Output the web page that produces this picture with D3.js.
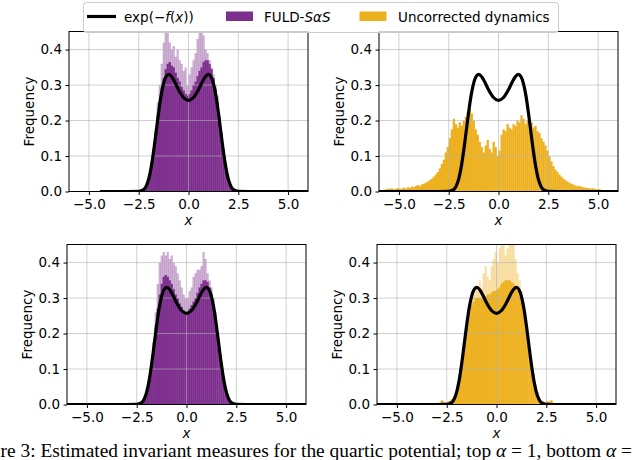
<!DOCTYPE html>
<html>
<head>
<meta charset="utf-8">
<script src="https://d3js.org/d3.v7.min.js"></script>
<style>
  body { margin:0; background:#fff; }
  svg { display:block; }
</style>
</head>
<body>
<div class="canvas"></div>
<script>
// ---- data ----
var tickX = [-5, -2.5, 0, 2.5, 5];
var tickY = [0, 0.1, 0.2, 0.3, 0.4];
var binWidth = 0.1;

// exp(-f(x)) reference density, sampled
var curveX = [-6, -3, -2.5, -2.25, -2.125, -2, -1.875, -1.75, -1.625, -1.5, -1.375, -1.25, -1.125, -1, -0.875, -0.75, -0.5, -0.25, 0,
              0.25, 0.5, 0.75, 0.875, 1, 1.125, 1.25, 1.375, 1.5, 1.625, 1.75, 1.875, 2, 2.125, 2.25, 2.5, 3, 6];
var curveY = [0, 0, 0.0003, 0.0053, 0.015, 0.0348, 0.068, 0.114, 0.168, 0.223, 0.271, 0.305, 0.324, 0.33, 0.3256, 0.315, 0.287, 0.265, 0.257,
              0.265, 0.287, 0.315, 0.3256, 0.33, 0.324, 0.305, 0.271, 0.223, 0.168, 0.114, 0.068, 0.0348, 0.015, 0.0053, 0.0003, 0, 0];

// FULD-SaS, top (alpha = 1): bins from -2.5
var fuldTopBody = [0,0,0.003,0.01,0.022,0.045,0.08,0.12,0.17,0.215,
                   0.255,0.29,0.32,0.345,0.36,0.365,0.355,0.35,0.335,0.32,
                   0.31,0.295,0.285,0.275,0.27, 0.275,0.285,0.3,0.31,0.325,
                   0.34,0.35,0.365,0.37,0.37, 0.36,0.345,0.32,0.29,0.25,
                   0.21,0.165,0.12,0.08,0.045, 0.022,0.01,0.003,0,0];
var fuldTopPeak = [0,0,0,0,0,0,0,0,0,0.25,
                   0.3,0.36,0.42,0.45,0.45,0.42,0.4,0.41,0.38,0.4,
                   0.37,0.36,0.34,0.35,0.3, 0.33,0.35,0.37,0.39,0.43,
                   0.45,0.45,0.44,0.4,0.39, 0.37,0.35,0.33,0.3,0.27,
                   0,0,0,0,0, 0,0,0,0,0];

// uncorrected dynamics, top: bins from -6
var uncTopBody = [0,0.003,0.005,0.006,0.008,0.007,0.009,0.006,0.008,0.01,
                  0.007,0.009,0.011,0.008,0.012,0.01,0.014,0.012,0.016,0.018,
                  0.015,0.02,0.022,0.025,0.028,0.032,0.036,0.042,0.048,0.055,
                  0.065,0.078,0.09,0.11,0.125,0.15,0.175,0.205,0.19,0.18,
                  0.195,0.185,0.2,0.21,0.225,0.232,0.22,0.2,0.175,0.16,
                  0.14,0.125,0.11,0.13,0.145,0.12,0.11,0.14,0.125,0.1,
                  0.115,0.16,0.175,0.17,0.19,0.18,0.175,0.19,0.185,0.2,
                  0.195,0.215,0.205,0.19,0.2,0.185,0.195,0.18,0.185,0.17,
                  0.165,0.15,0.14,0.13,0.115,0.1,0.085,0.072,0.062,0.055,
                  0.048,0.042,0.036,0.032,0.028,0.025,0.022,0.02,0.017,0.015,
                  0.016,0.013,0.012,0.011,0.01,0.009,0.008,0.009,0.007,0.006,
                  0.007,0.005,0.004,0.003,0.002,0.001,0,0,0,0];

// FULD-SaS, bottom: bins from -2.5
var fuldBotBody = [0,0,0.003,0.01,0.022,0.045,0.08,0.125,0.175,0.225,
                   0.27,0.31,0.34,0.36,0.365,0.36,0.35,0.34,0.325,0.31,
                   0.3,0.285,0.275,0.265,0.26, 0.26,0.27,0.28,0.29,0.3,
                   0.315,0.33,0.34,0.35,0.35, 0.345,0.33,0.31,0.28,0.245,
                   0.205,0.16,0.115,0.075,0.043, 0.02,0.008,0.002,0,0];
var fuldBotPeak = [0,0,0,0,0,0,0,0,0,0.26,
                   0.34,0.4,0.42,0.43,0.42,0.43,0.41,0.42,0.4,0.39,
                   0.37,0.35,0.33,0.31,0.3, 0.3,0.32,0.33,0.36,0.37,
                   0.38,0.38,0.39,0.43,0.41, 0.37,0.35,0.33,0.3,0.26,
                   0,0,0,0,0, 0,0,0,0,0];

// uncorrected dynamics, bottom: bins from -3
var uncBotBody = [0,0.005,0.012,0.008,0.004,0.006,0.01,0.015,0.022,0.035,
                  0.055,0.085,0.125,0.17,0.21,0.24,0.26,0.28,0.29,0.3,
                  0.3,0.3,0.3,0.3,0.305,0.31,0.31,0.315,0.32,0.32,
                  0.325,0.33,0.34,0.345,0.35,0.35,0.35,0.345,0.34,0.33,
                  0.32,0.305,0.29,0.265,0.235,0.2,0.16,0.12,0.085,0.055,
                  0.035,0.02,0.01,0.006,0.004,0.01,0.008,0.012,0.004,0];
var uncBotPeak = [0,0,0,0,0,0,0,0,0,0,
                  0,0,0,0,0,0,0,0.3,0.31,0.33,
                  0.32,0.35,0.33,0.37,0.39,0.36,0.35,0.39,0.41,0.43,
                  0.4,0.44,0.45,0.45,0.42,0.44,0.45,0.45,0.45,0.41,
                  0.37,0.35,0.32,0.29,0,0,0,0,0,0,
                  0,0,0,0,0,0,0,0,0,0];

var legendLabels = ['exp(−f(x))', 'FULD-SαS', 'Uncorrected dynamics'];

// ---- layout ----
var pageWidth = 640, pageHeight = 460;
var plotWidth = 239, plotHeight = 160;
var purple = '#7e2f8e', gold = '#edb120';
var font = 'DejaVu Sans';

var panels = [
    {l:69,  t:31.5,  color:purple, start:-2.5, body:fuldTopBody, peak:fuldTopPeak, curveFrom:-4.45},
    {l:379, t:31.5,  color:gold,   start:-6,   body:uncTopBody,  peak:null,        curveFrom:-6},
    {l:67,  t:244.5, color:purple, start:-2.5, body:fuldBotBody, peak:fuldBotPeak, curveFrom:-6},
    {l:377, t:244.5, color:gold,   start:-3,   body:uncBotBody,  peak:uncBotPeak,  curveFrom:-6}
];

var svg = d3.select('.canvas')
    .append('svg')
    .attr('width',pageWidth)
    .attr('height',pageHeight);

svg.append('rect').attr('width',pageWidth).attr('height',pageHeight).attr('fill','#fff');

var x = d3.scaleLinear().domain([-6,6]).range([0,plotWidth]);
var y = d3.scaleLinear().domain([0,0.451]).range([plotHeight,0]);
var fmt = d3.format('.1f');

panels.forEach(drawPanel);
drawLegend();
drawCaption();

function drawBars(g, p, arr, opacity){
    var w = x(binWidth) - x(0);
    // pair every height with its bin's left edge before dropping empty bins
    var bins = arr.map(function(v,i){ return {x0: p.start + i*binWidth, v: v}; })
        .filter(function(d){ return d.v > 0; });
    g.append('g').selectAll('rect')
        .data(bins)
        .enter().append('rect')
        .attr('x', function(d){ return x(d.x0); })
        .attr('width', w + 0.3)
        .attr('y', function(d){ return y(d.v); })
        .attr('height', function(d){ return plotHeight - y(d.v); })
        .attr('fill', p.color)
        .attr('fill-opacity', opacity);
}

function drawPanel(p, i){
    var g = svg.append('g').attr('transform','translate('+p.l+','+p.t+')');

    g.append('clipPath').attr('id','clip'+i)
        .append('rect').attr('width',plotWidth).attr('height',plotHeight);

    var inner = g.append('g').attr('clip-path','url(#clip'+i+')');

    if(p.peak) drawBars(inner, p, p.peak, 0.38);
    drawBars(inner, p, p.body, 1);

    // grid sits above the bars, below the line
    var grid = inner.append('g').attr('stroke','#b0b0b0').attr('stroke-opacity',0.6).attr('stroke-width',1);
    grid.selectAll('.gx').data(tickX).enter().append('line')
        .attr('x1',function(d){ return x(d); }).attr('x2',function(d){ return x(d); })
        .attr('y1',0).attr('y2',plotHeight);
    grid.selectAll('.gy').data(tickY).enter().append('line')
        .attr('y1',function(d){ return y(d); }).attr('y2',function(d){ return y(d); })
        .attr('x1',0).attr('x2',plotWidth);

    var pts = curveX.map(function(d,k){ return [d, curveY[k]]; })
        .filter(function(d){ return d[0] > p.curveFrom; });
    pts.unshift([p.curveFrom, 0]);

    var line = d3.line()
        .x(function(d){ return x(d[0]); })
        .y(function(d){ return y(d[1]); })
        .curve(d3.curveMonotoneX);

    inner.append('path')
        .datum(pts)
        .attr('d', line)
        .attr('fill','none')
        .attr('stroke','#000')
        .attr('stroke-width',3.2)
        .attr('stroke-linejoin','round');

    g.append('rect')
        .attr('width',plotWidth).attr('height',plotHeight)
        .attr('fill','none').attr('stroke','#000').attr('stroke-width',1);

    var xAxis = g.append('g')
        .attr('transform','translate(0,'+plotHeight+')')
        .call(d3.axisBottom(x).tickValues(tickX).tickFormat(fmt).tickSize(3.5).tickPadding(4.5).tickSizeOuter(0));
    var yAxis = g.append('g')
        .call(d3.axisLeft(y).tickValues(tickY).tickFormat(fmt).tickSize(3.5).tickPadding(3.5).tickSizeOuter(0));

    [xAxis, yAxis].forEach(function(a){
        a.select('.domain').remove();
        a.attr('font-family',font).attr('font-size',13.5);
        a.selectAll('text').attr('fill','#000');
        a.selectAll('line').attr('stroke','#000');
    });

    g.append('text')
        .attr('x',plotWidth/2).attr('y',plotHeight+33)
        .attr('text-anchor','middle')
        .attr('font-family',font).attr('font-size',13.5).attr('font-style','italic')
        .text('x');

    g.append('text')
        .attr('transform','translate(-35,'+(plotHeight/2)+') rotate(-90)')
        .attr('text-anchor','middle')
        .attr('font-family',font).attr('font-size',13.5)
        .text('Frequency');
}

function drawLegend(){
    var lg = svg.append('g').attr('font-family',font).attr('font-size',13.5);

    lg.append('rect')
        .attr('x',83.5).attr('y',2.5).attr('width',475).attr('height',30)
        .attr('rx',3).attr('fill','#fff').attr('fill-opacity',0.8)
        .attr('stroke','#cccccc').attr('stroke-width',1);

    lg.append('line')
        .attr('x1',87).attr('x2',116).attr('y1',16.5).attr('y2',16.5)
        .attr('stroke','#000').attr('stroke-width',3.2);

    var t0 = lg.append('text').attr('x',124).attr('y',21.5);
    t0.append('tspan').text('exp(−');
    t0.append('tspan').attr('font-style','italic').text('f');
    t0.append('tspan').text('(');
    t0.append('tspan').attr('font-style','italic').text('x');
    t0.append('tspan').text('))');

    lg.append('rect').attr('x',226).attr('y',11.5).attr('width',27).attr('height',9.5).attr('fill',purple);
    var t1 = lg.append('text').attr('x',264).attr('y',21.5);
    t1.append('tspan').text('FULD-');
    t1.append('tspan').attr('font-style','italic').text('SαS');

    lg.append('rect').attr('x',359.5).attr('y',11.5).attr('width',27).attr('height',9.5).attr('fill',gold);
    lg.append('text').attr('x',398).attr('y',21.5).text(legendLabels[2]);
}

function drawCaption(){
    var c = svg.append('text')
        .attr('x',-35).attr('y',456.5)
        .attr('font-family','Liberation Serif').attr('font-size',19.4)
        .attr('fill','#000');
    c.append('tspan').text('Figure 3: Estimated invariant measures for the quartic potential; top ');
    c.append('tspan').attr('font-style','italic').text('α');
    c.append('tspan').text(' = 1, bottom ');
    c.append('tspan').attr('font-style','italic').text('α');
    c.append('tspan').text(' =');
}
</script>
</body>
</html>
